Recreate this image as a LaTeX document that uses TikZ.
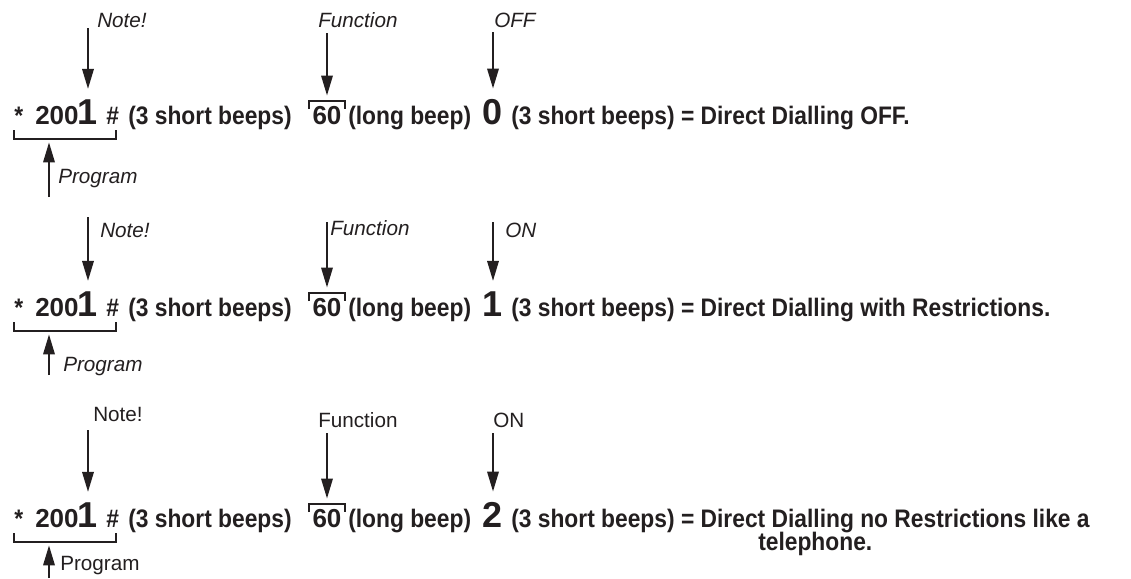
\documentclass[tikz,border=0pt]{standalone}
\usepackage{fontspec}
\setmainfont{Liberation Sans}
\newfontfamily\keyfont[FakeStretch=0.9]{Liberation Sans}
\usepackage{tikz}
\usetikzlibrary{arrows.meta,calc}
\definecolor{ink}{RGB}{35,31,32}

\begin{document}
\begin{tikzpicture}[x=0.75pt,y=-0.75pt,
  key/.style={inner sep=0pt,ink,font=\keyfont\bfseries\fontsize{19}{21}\selectfont},
  digits/.style={inner sep=0pt,ink,font=\bfseries\fontsize{19.5}{21}\selectfont},
  big/.style={inner sep=0pt,ink,font=\bfseries\fontsize{27}{29}\selectfont},
  noteit/.style={inner sep=0pt,ink,font=\itshape\fontsize{15.5}{17}\selectfont},
  noteup/.style={inner sep=0pt,ink,font=\fontsize{15.5}{17}\selectfont},
  pointer/.style={ink,line width=1.7pt,-{Triangle[length=15pt,width=8.5pt]}},
  bracket/.style={ink,line width=1.3pt}]
  \useasboundingbox (0,0) rectangle (1131,578);

  % key sequences, one per row
  \foreach \row/\y/\dig/\rest in {
    1/124/0/{(3 short beeps) = Direct Dialling OFF.},
    2/316/1/{(3 short beeps) = Direct Dialling with Restrictions.},
    3/527/2/{(3 short beeps) = Direct Dialling no Restrictions like a}}{
    \node[key,anchor=base west] (star\row) at (14,\y) {*};
    \node[digits,anchor=base west] (zero\row) at (35,\y) {200};
    \node[big,anchor=base] (one\row) at (88,\y) {1};
    \node[key,anchor=base west] (hash\row) at (106,\y) {\#};
    \node[key,anchor=base west] (beeps\row) at (128,\y) {(3 short beeps)};
    \node[digits,anchor=base] (sixty\row) at (327,\y) {60};
    \node[key,anchor=base west] (long\row) at (348,\y) {(long beep)};
    \node[big,anchor=base] (val\row) at (493,\y) {\dig};
    \node[key,anchor=base west] (end\row) at (511,\y) {\rest};
    % brackets under the program code and over the function code
    \draw[bracket] (14,\y+6) -- (14,\y+15) -- (116,\y+15) -- (116,\y+6);
    \draw[bracket] (309,\y-15) -- (309,\y-23) -- (345,\y-23) -- (345,\y-15);
    \coordinate (prg\row) at (49,\y+15);
  }
  \node[key,anchor=base west] (tele) at (758,550) {telephone.};

  % labels with arrows down
  \foreach \tg/\ty/\lx/\ly/\txt/\sty in {
    one1/28/97/27/Note!/noteit,
    sixty1/33/318/27/Function/noteit,
    val1/32/494/27/OFF/noteit,
    one2/217/100/237/Note!/noteit,
    sixty2/222/330/235/Function/noteit,
    val2/222/505/237/ON/noteit,
    one3/430/93/421/Note!/noteup,
    sixty3/433/318/427/Function/noteup,
    val3/433/493/427/ON/noteup}{
    \coordinate (lv) at (0,\ty);
    \coordinate (from\tg) at (\tg.north |- lv);
    \node[\sty,anchor=base west] (lab\tg) at (\lx,\ly) {\txt};
    \draw[pointer,shorten >=7.5pt] (from\tg) -- (\tg.north);
  }

  % program arrows up
  \foreach \row/\ty/\lx/\ly/\sty in {
    1/197/58/183/noteit,
    2/375/63/371/noteit,
    3/578/60/570/noteup}{
    \coordinate (lv) at (0,\ty);
    \coordinate (pfrom\row) at (prg\row |- lv);
    \node[\sty,anchor=base west] (prog\row) at (\lx,\ly) {Program};
    \draw[pointer,shorten >=2.5pt] (pfrom\row) -- (prg\row);
  }
\end{tikzpicture}
\end{document}
